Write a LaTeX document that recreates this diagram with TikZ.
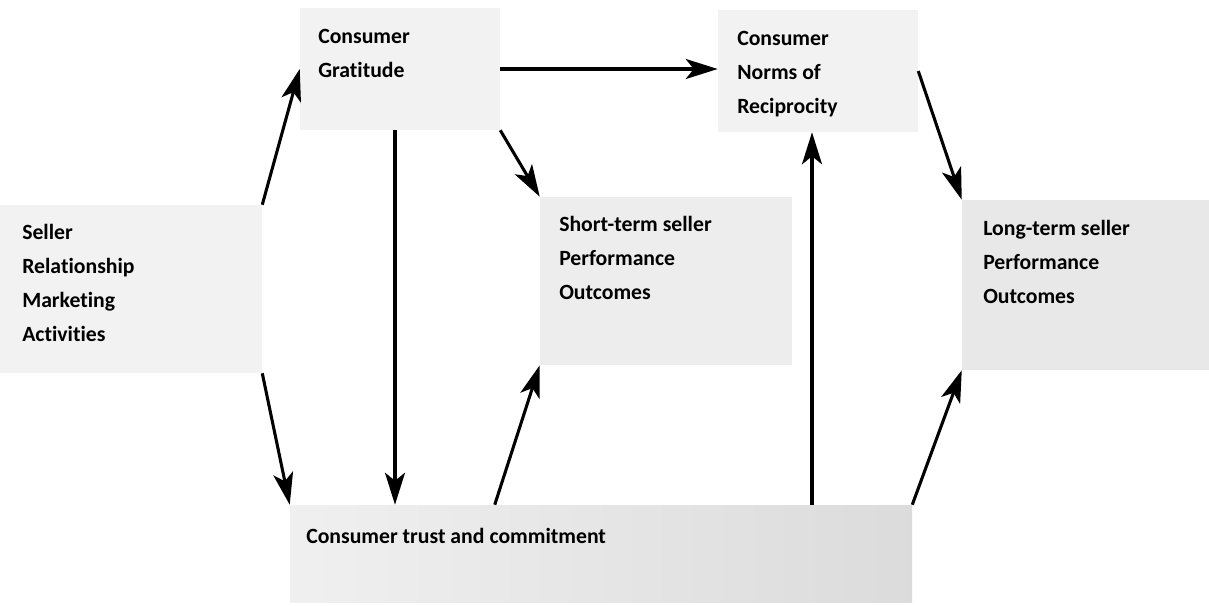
\documentclass[tikz,border=0pt]{standalone}
\usepackage{fontspec}
\setmainfont{Carlito}[Ligatures=NoCommon]
\usetikzlibrary{arrows.meta,fit}
\newcommand\boxlines[1]{\begin{tabular}[t]{@{}l@{}}#1\end{tabular}}
\begin{document}
\begin{tikzpicture}[x=0.75pt,y=-0.75pt,
  box/.style={inner sep=0pt, draw=none, fill=black!5},
  lbl/.style={anchor=base west, inner sep=0pt,
    font=\fontsize{16.3}{25.5}\selectfont\bfseries},
  arr/.style={line width=2.3pt, -{Stealth[length=24pt,width=15pt,inset=6pt]}}]
\useasboundingbox (0,0) rectangle (1209,606);

% construct boxes
\node[box, fit={(0,205) (262,373)}] (seller) {};
\node[box, fit={(300,8) (500,130)}] (grat) {};
\node[box, fit={(718,10) (918,132)}] (norms) {};
\node[box, fill=black!7, fit={(540,197) (792,365)}] (short) {};
\node[box, fill=black!9, fit={(962,200) (1209,370)}] (long) {};
\node[box, fill=none, left color=black!6, right color=black!14,
      fit={(290,505) (912,602)}] (trust) {};

% labels
\node[lbl] (sellertxt) at (22,239) {\boxlines{Seller\\Relationship\\Marketing\\Activities}};
\node[lbl] (grattxt) at (318,44) {\boxlines{Consumer\\Gratitude}};
\node[lbl] (normstxt) at (737,46) {\boxlines{Consumer\\Norms of\\Reciprocity}};
\node[lbl] (shorttxt) at (559,231) {\boxlines{Short-term seller\\Performance\\Outcomes}};
\node[lbl] (longtxt) at (983,235) {\boxlines{Long-term seller\\Performance\\Outcomes}};
\node[lbl] (trusttxt) at (306,543) {Consumer trust and commitment};

% paths between constructs
\draw[arr] (seller.north east) -- (grat.west);
\draw[arr] (seller.south east) -- (trust.north west);
\draw[arr] ([xshift=-3.75pt]grat.south) -- ([xshift=-3.75pt]grat.south |- trust.north);
\draw[arr] (grat.east) -- (grat.east -| norms.west);
\draw[arr] (grat.south east) -- (short.north west);
\draw[arr] ([xshift=153.75pt]trust.north west) -- (short.south west);
\draw[arr] ([xshift=-4.5pt]norms.south |- trust.north) -- ([xshift=-4.5pt]norms.south);
\draw[arr] (norms.east) -- (long.north west);
\draw[arr] (trust.north east) -- (long.south west);
\end{tikzpicture}
\end{document}
